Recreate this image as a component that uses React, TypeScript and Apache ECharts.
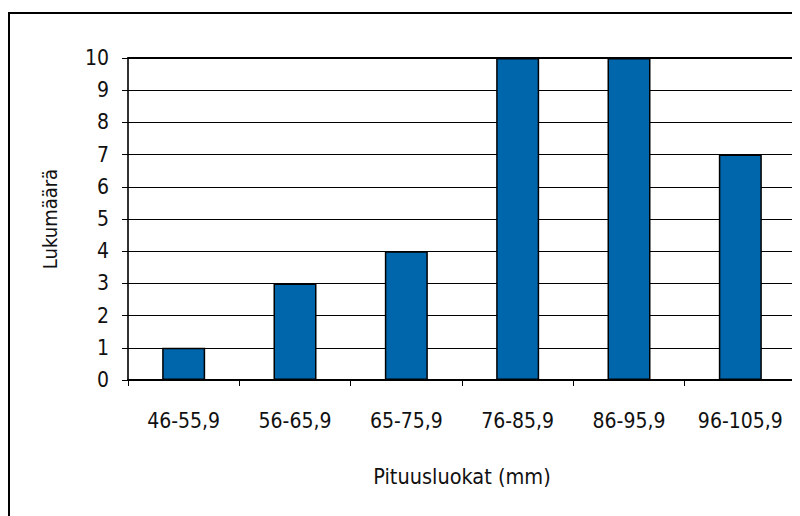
import React, { useEffect, useRef } from "react";
import * as echarts from "echarts";

const categories = ["46-55,9", "56-65,9", "65-75,9", "76-85,9", "86-95,9", "96-105,9"];
const counts = [1, 3, 4, 10, 10, 7];
const xName = "Pituusluokat (mm)";
const yName = "Lukumäärä";

const FONT = "'DejaVu Sans Condensed', 'DejaVu Sans', sans-serif";

export default function App() {
  const ref = useRef<HTMLDivElement>(null);
  useEffect(() => {
    if (!ref.current) return;
    const chart = echarts.init(ref.current, undefined, { renderer: "svg" });
    chart.setOption({
      animation: false,
      backgroundColor: "#ffffff",
      textStyle: { fontFamily: FONT },
      grid: {
        left: 120,
        top: 50,
        width: 668,
        height: 322,
        show: true,
        borderColor: "#8a8a8a",
        borderWidth: 1,
        backgroundColor: "transparent",
      },
      graphic: [
        {
          type: "rect",
          shape: { x: 1, y: 5, width: 1200, height: 1200 },
          style: { fill: "none", stroke: "#000", lineWidth: 2 },
          silent: true,
          z: 0,
        },
      ],
      xAxis: [
        {
          type: "category",
          data: categories,
          position: "bottom",
          boundaryGap: true,
          axisLine: { lineStyle: { color: "#000", width: 2 } },
          axisTick: { show: true, length: 6, lineStyle: { color: "#000", width: 1 } },
          axisLabel: { color: "#111", fontSize: 21, fontFamily: FONT, margin: 30 },
          splitLine: { show: false },
          name: xName,
          nameLocation: "middle",
          nameGap: 85,
          nameTextStyle: { color: "#111", fontSize: 21.5, fontFamily: FONT },
        },
        {
          type: "category",
          data: categories,
          position: "top",
          axisLine: { lineStyle: { color: "#000", width: 2 } },
          axisTick: { show: false },
          axisLabel: { show: false },
        },
      ],
      yAxis: {
        type: "value",
        min: 0,
        max: 10,
        interval: 1,
        axisLine: { show: true, lineStyle: { color: "#000", width: 1.5 } },
        axisTick: { show: true, length: 6, lineStyle: { color: "#000", width: 1 } },
        axisLabel: { color: "#111", fontSize: 21, fontFamily: FONT, margin: 19 },
        splitLine: { show: true, lineStyle: { color: "#000", width: 1 } },
        name: yName,
        nameLocation: "middle",
        nameGap: 68,
        nameRotate: 90,
        nameTextStyle: { color: "#111", fontSize: 20, fontFamily: FONT },
      },
      series: [
        {
          type: "bar",
          data: counts,
          xAxisIndex: 0,
          barWidth: 43,
          itemStyle: { color: "#0066AB", borderColor: "#000", borderWidth: 1.5 },
          z: 3,
        },
      ],
    });
    return () => chart.dispose();
  }, []);
  return <div ref={ref} style={{ width: 792, height: 508 }} />;
}
